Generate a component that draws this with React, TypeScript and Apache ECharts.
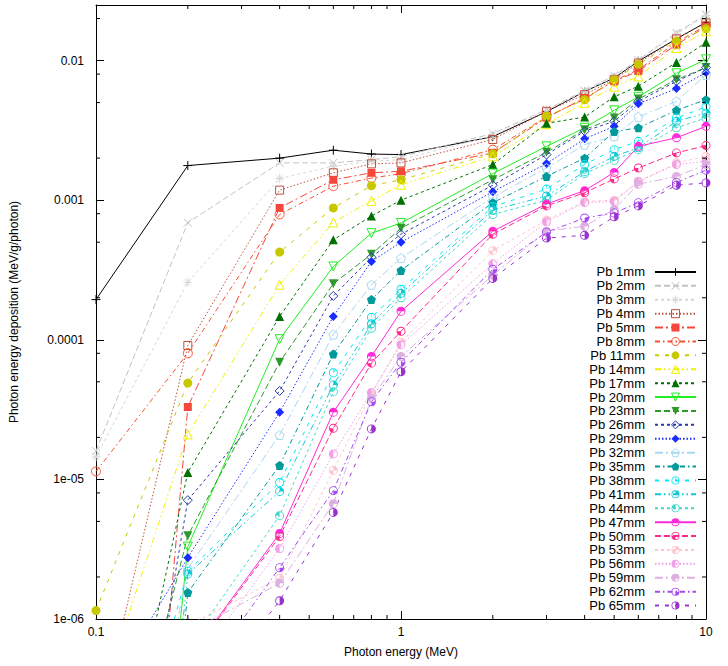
import React, { useEffect, useRef } from "react";
import * as echarts from "echarts";

// ---------------- data ----------------
const ENERGY = [0.1, 0.2, 0.4, 0.6, 0.8, 1, 2, 3, 4, 5, 6, 8, 10];

const PB_1MM = [1.94e-4, 1.77e-3, 2.0e-3, 2.28e-3, 2.14e-3, 2.12e-3, 2.85e-3, 4.3e-3, 6.0e-3, 7.5e-3, 9.9e-3, 1.43e-2, 1.88e-2];
const PB_2MM = [1.6e-5, 6.9e-4, 1.85e-3, 1.85e-3, 1.95e-3, 2.05e-3, 3.0e-3, 4.45e-3, 6.1e-3, 7.8e-3, 1.01e-2, 1.58e-2, 2.14e-2];
const PB_3MM = [1.45e-5, 2.58e-4, 1.43e-3, 1.75e-3, 1.9e-3, 1.95e-3, 2.9e-3, 4.4e-3, 6.0e-3, 7.6e-3, 1.0e-2, 1.55e-2, 2.1e-2];
const PB_4MM = [1.4e-7, 9.1e-5, 1.18e-3, 1.57e-3, 1.82e-3, 1.85e-3, 2.72e-3, 4.33e-3, 5.7e-3, 7.3e-3, 9.6e-3, 1.43e-2, 1.86e-2];
const PB_5MM = [1e-12, 3.3e-5, 8.8e-4, 1.4e-3, 1.57e-3, 1.61e-3, 2.18e-3, 3.9e-3, 5.4e-3, 7.1e-3, 8.4e-3, 1.3e-2, 1.75e-2];
const PB_8MM = [1.14e-5, 8.0e-5, 7.9e-4, 1.26e-3, 1.44e-3, 1.55e-3, 2.3e-3, 3.95e-3, 5.3e-3, 7.2e-3, 8.6e-3, 1.35e-2, 1.78e-2];
const PB_11MM = [1.15e-6, 4.9e-5, 4.25e-4, 8.8e-4, 1.27e-3, 1.4e-3, 2.15e-3, 3.99e-3, 5.25e-3, 7.3e-3, 9.4e-3, 1.38e-2, 1.69e-2];
const PB_14MM = [2.1e-7, 2.1e-5, 2.48e-4, 6.93e-4, 9.9e-4, 1.29e-3, 2.06e-3, 3.5e-3, 4.98e-3, 6.5e-3, 7.7e-3, 1.23e-2, 1.62e-2];
const PB_17MM = [1e-8, 1.12e-5, 1.47e-4, 5.2e-4, 7.7e-4, 1.0e-3, 1.8e-3, 3.55e-3, 3.94e-3, 5.5e-3, 6.55e-3, 9.7e-3, 1.35e-2];
const PB_20MM = [1e-12, 3.3e-6, 1.01e-4, 3.35e-4, 5.8e-4, 6.86e-4, 1.55e-3, 2.43e-3, 3.3e-3, 4.4e-3, 5.5e-3, 8.1e-3, 1.02e-2];
const PB_23MM = [1e-8, 3.95e-6, 6.9e-5, 2.52e-4, 4.1e-4, 6.3e-4, 1.4e-3, 2.2e-3, 3.2e-3, 3.88e-3, 5.3e-3, 7.3e-3, 8.9e-3];
const PB_26MM = [1e-9, 7.1e-6, 4.3e-5, 2.06e-4, 3.9e-4, 5.7e-4, 1.28e-3, 2.12e-3, 3.12e-3, 3.67e-3, 5.1e-3, 7.1e-3, 8.9e-3];
const PB_29MM = [2.2e-7, 2.75e-6, 3.03e-5, 1.47e-4, 3.64e-4, 5.0e-4, 1.15e-3, 1.83e-3, 2.75e-3, 3.38e-3, 4.9e-3, 6.3e-3, 8.2e-3];
const PB_32MM = [1e-9, 2.3e-6, 2.08e-5, 1.09e-4, 2.48e-4, 3.85e-4, 1.05e-3, 1.7e-3, 2.5e-3, 2.87e-3, 3.95e-3, 5.1e-3, 7.9e-3];
const PB_35MM = [1e-12, 1.55e-6, 1.26e-5, 7.9e-5, 1.94e-4, 3.14e-4, 9.6e-4, 1.48e-3, 2.0e-3, 3.1e-3, 3.3e-3, 4.4e-3, 5.25e-3];
const PB_38MM = [1e-8, 2.2e-6, 9.5e-6, 5.8e-5, 1.45e-4, 2.3e-4, 9.0e-4, 1.2e-3, 1.8e-3, 2.3e-3, 2.64e-3, 3.88e-3, 4.66e-3];
const PB_41MM = [1e-12, 2.1e-6, 8.2e-6, 4.75e-5, 1.3e-4, 2.15e-4, 8.5e-4, 1.07e-3, 1.6e-3, 2.06e-3, 2.37e-3, 3.67e-3, 4.2e-3];
const PB_44MM = [1e-10, 6.3e-7, 5.5e-6, 4.25e-5, 1.21e-4, 2.0e-4, 7.9e-4, 1.0e-3, 1.55e-3, 1.93e-3, 2.3e-3, 3.3e-3, 3.88e-3];
const PB_47MM = [1e-10, 5.2e-7, 4.1e-6, 3.03e-5, 7.6e-5, 1.6e-4, 6.0e-4, 9.4e-4, 1.17e-3, 1.58e-3, 2.43e-3, 2.8e-3, 3.38e-3];
const PB_50MM = [1e-10, 5.1e-7, 3.9e-6, 2.32e-5, 6.8e-5, 1.15e-4, 5.7e-4, 9.1e-4, 1.13e-3, 1.42e-3, 1.7e-3, 2.18e-3, 2.46e-3];
const PB_53MM = [1e-10, 9e-7, 1.95e-6, 1.16e-5, 4.1e-5, 9.6e-5, 4.35e-4, 7.2e-4, 9.8e-4, 1.0e-3, 1.36e-3, 1.85e-3, 2.06e-3];
const PB_56MM = [1e-10, 4e-7, 3.2e-6, 1.52e-5, 4.2e-5, 9.2e-5, 3.5e-4, 7.0e-4, 9.6e-4, 9.8e-4, 1.36e-3, 1.8e-3, 1.9e-3];
const PB_59MM = [1e-10, 8e-7, 1.8e-6, 6.7e-6, 3.8e-5, 7.6e-5, 2.9e-4, 6.0e-4, 6.5e-4, 8.6e-4, 1.3e-3, 1.48e-3, 1.8e-3];
const PB_62MM = [1e-10, 2.8e-7, 2.33e-6, 8.3e-6, 3.6e-5, 6.9e-5, 3.2e-4, 5.9e-4, 7.45e-4, 8.1e-4, 9.6e-4, 1.34e-3, 1.64e-3];
const PB_65MM = [1e-10, 1.9e-7, 1.35e-6, 5.8e-6, 2.3e-5, 5.9e-5, 2.75e-4, 5.35e-4, 5.6e-4, 7.6e-4, 9.1e-4, 1.28e-3, 1.33e-3];

const SERIES_NAMES = [
  "Pb 1mm", "Pb 2mm", "Pb 3mm", "Pb 4mm", "Pb 5mm", "Pb 8mm", "Pb 11mm", "Pb 14mm",
  "Pb 17mm", "Pb 20mm", "Pb 23mm", "Pb 26mm", "Pb 29mm", "Pb 32mm", "Pb 35mm",
  "Pb 38mm", "Pb 41mm", "Pb 44mm", "Pb 47mm", "Pb 50mm", "Pb 53mm", "Pb 56mm",
  "Pb 59mm", "Pb 62mm", "Pb 65mm",
];
const SERIES_VALUES = [
  PB_1MM, PB_2MM, PB_3MM, PB_4MM, PB_5MM, PB_8MM, PB_11MM, PB_14MM, PB_17MM,
  PB_20MM, PB_23MM, PB_26MM, PB_29MM, PB_32MM, PB_35MM, PB_38MM, PB_41MM,
  PB_44MM, PB_47MM, PB_50MM, PB_53MM, PB_56MM, PB_59MM, PB_62MM, PB_65MM,
];

const X_MIN = 0.1;
const X_MAX = 10;
const Y_MIN = 1e-6;
const Y_MAX = 0.025;
const X_MINOR_TICKS = [0.2, 0.3, 0.4, 0.5, 0.6, 0.7, 0.8, 0.9, 2, 3, 4, 5, 6, 7, 8, 9];
const Y_MINOR_TICKS = [2e-6, 5e-6, 8e-6, 2e-5, 5e-5, 8e-5, 2e-4, 5e-4, 8e-4, 2e-3, 5e-3, 8e-3, 2e-2];

const X_TITLE = "Photon energy (MeV)";
const Y_TITLE = "Photon energy deposition (MeV/g/photon)";

// ---------------- styles ----------------
const FONT = "'Liberation Sans', Arial, Helvetica, sans-serif";

const COLORS = [
  "#000000", "#c2c2c2", "#d6d6d6", "#c0503a", "#f5473b", "#f8502e", "#c8c800",
  "#f0f000", "#007000", "#22ee22", "#2e9a2e", "#2a3aa8", "#1a2cff", "#a8d8f0",
  "#009a9a", "#00e8f0", "#10c8d8", "#40d8cc", "#ff2ad8", "#ff2a8a", "#ffc4cc",
  "#f0a0e8", "#dcb0e0", "#a44af0", "#9a32d0",
];

const DASHES: any[] = [
  "solid",
  [6, 3],
  [3, 3],
  [1.5, 2],
  [8, 3, 2, 3],
  [5, 3, 1.5, 3],
  [4, 6],
  [6, 3, 1.5, 3, 1.5, 3],
  [3, 3],
];

const RING =
  "M0,10A10,10 0 1 1 20,10A10,10 0 1 1 0,10Z M2,10A8,8 0 1 0 18,10A8,8 0 1 0 2,10Z";

function pt(a: number) {
  const r = (a * Math.PI) / 180;
  return `${(10 + 8 * Math.cos(r)).toFixed(3)},${(10 - 8 * Math.sin(r)).toFixed(3)}`;
}
function sector(a1: number, a2: number) {
  const large = a2 - a1 > 180 ? 1 : 0;
  return `M10,10L${pt(a2)}A8,8 0 ${large} 1 ${pt(a1)}Z`;
}
function patternCircle(ranges: number[][]) {
  let d = RING;
  if (ranges.length === 0) d += " M9.4,2H10.6V10H9.4Z";
  for (const [a1, a2] of ranges) d += " " + sector(a1, a2);
  return "path://" + d;
}

type Mk = { symbol: string; filled: boolean; size: number; rotate?: number };
const MARKERS: Mk[] = [
  { symbol: "path://M10,0V20M0,10H20", filled: false, size: 9 },
  { symbol: "path://M0,0L20,20M20,0L0,20", filled: false, size: 8 },
  { symbol: "path://M10,0V20M0,10H20M3,3L17,17M17,3L3,17", filled: false, size: 9 },
  { symbol: "rect", filled: false, size: 8 },
  { symbol: "rect", filled: true, size: 8 },
  { symbol: "circle", filled: false, size: 9 },
  { symbol: "circle", filled: true, size: 9 },
  { symbol: "triangle", filled: false, size: 9 },
  { symbol: "triangle", filled: true, size: 9 },
  { symbol: "triangle", filled: false, size: 9, rotate: 180 },
  { symbol: "triangle", filled: true, size: 9, rotate: 180 },
  { symbol: "diamond", filled: false, size: 9 },
  { symbol: "diamond", filled: true, size: 9 },
  { symbol: "path://M10,0L19.51,6.91L15.88,18.09L4.12,18.09L0.49,6.91Z", filled: false, size: 9 },
  { symbol: "path://M10,0L19.51,6.91L15.88,18.09L4.12,18.09L0.49,6.91Z", filled: true, size: 9 },
  { symbol: patternCircle([]), filled: true, size: 9 },
  { symbol: patternCircle([[0, 90]]), filled: true, size: 9 },
  { symbol: patternCircle([[90, 180]]), filled: true, size: 9 },
  { symbol: patternCircle([[0, 180]]), filled: true, size: 9 },
  { symbol: patternCircle([[180, 270]]), filled: true, size: 9 },
  { symbol: patternCircle([[0, 90], [180, 270]]), filled: true, size: 9 },
  { symbol: patternCircle([[90, 270]]), filled: true, size: 9 },
  { symbol: patternCircle([[0, 270]]), filled: true, size: 9 },
  { symbol: patternCircle([[270, 360]]), filled: true, size: 9 },
  { symbol: patternCircle([[-90, 90]]), filled: true, size: 9 },
];

function fmtLog(v: number) {
  const l = Math.log10(v);
  const e = Math.round(l);
  if (Math.abs(l - e) > 1e-6) return "";
  if (e >= 0) return String(Math.round(Math.pow(10, e)));
  if (e >= -4) return Math.pow(10, e).toFixed(-e);
  return "1e-" + String(-e).padStart(2, "0");
}

export default function App() {
  const ref = useRef<HTMLDivElement>(null);

  useEffect(() => {
    if (!ref.current) return;
    const chart = echarts.init(ref.current, undefined, { renderer: "svg" });

    const lineSeries = SERIES_NAMES.map((name, i) => {
      const c = COLORS[i];
      const mk = MARKERS[i];
      return {
        name,
        type: "line",
        xAxisIndex: 0,
        yAxisIndex: 0,
        data: ENERGY.map((x, j) => [x, SERIES_VALUES[i][j]]),
        symbol: mk.symbol,
        symbolSize: mk.size,
        symbolRotate: mk.rotate || 0,
        showSymbol: true,
        showAllSymbol: true,
        clip: true,
        lineStyle: { color: c, width: 1, type: DASHES[i % 9] },
        itemStyle: mk.filled
          ? { color: c, borderColor: c, borderWidth: 0 }
          : { color: "rgba(0,0,0,0)", borderColor: c, borderWidth: 1 },
        emphasis: { disabled: true },
        z: 2,
      };
    });

    const tickSeries = {
      type: "custom",
      name: "_ticks",
      xAxisIndex: 0,
      yAxisIndex: 0,
      silent: true,
      clip: false,
      z: 5,
      data: [
        ...X_MINOR_TICKS.map((v) => [v, Y_MIN, 0]),
        ...Y_MINOR_TICKS.map((v) => [X_MIN, v, 1]),
      ],
      encode: { x: 0, y: 1 },
      renderItem: (params: any, api: any) => {
        const kind = api.value(2);
        const st = { stroke: "#000", lineWidth: 1 };
        if (kind === 0) {
          const b = api.coord([api.value(0), Y_MIN]);
          const t = api.coord([api.value(0), Y_MAX]);
          return {
            type: "group",
            children: [
              { type: "line", shape: { x1: b[0], y1: b[1], x2: b[0], y2: b[1] - 4 }, style: st },
              { type: "line", shape: { x1: t[0], y1: t[1], x2: t[0], y2: t[1] + 4 }, style: st },
            ],
          };
        }
        const l = api.coord([X_MIN, api.value(1)]);
        const r = api.coord([X_MAX, api.value(1)]);
        return {
          type: "group",
          children: [
            { type: "line", shape: { x1: l[0], y1: l[1], x2: l[0] + 4, y2: l[1] }, style: st },
            { type: "line", shape: { x1: r[0], y1: r[1], x2: r[0] - 4, y2: r[1] }, style: st },
          ],
        };
      },
    };

    const axisCommon = {
      axisLine: { show: true, onZero: false, lineStyle: { color: "#000", width: 1 } },
      axisTick: { show: true, inside: true, length: 8, lineStyle: { color: "#000", width: 1 } },
      splitLine: { show: false },
      minorTick: { show: false },
    };

    const option: any = {
      animation: false,
      backgroundColor: "#ffffff",
      textStyle: { fontFamily: FONT },
      grid: { left: 92, right: 22, top: 5, bottom: 47, containLabel: false },
      xAxis: [
        {
          type: "log",
          logBase: 10,
          min: X_MIN,
          max: X_MAX,
          splitNumber: 2,
          position: "bottom",
          name: X_TITLE,
          nameLocation: "middle",
          nameGap: 27,
          nameTextStyle: { fontSize: 12, color: "#000", fontFamily: FONT },
          axisLabel: {
            show: true,
            margin: 7,
            fontSize: 12,
            color: "#000",
            fontFamily: FONT,
            formatter: fmtLog,
            showMaxLabel: true,
            showMinLabel: true,
          },
          ...axisCommon,
        },
        {
          type: "log",
          logBase: 10,
          min: X_MIN,
          max: X_MAX,
          splitNumber: 2,
          position: "top",
          axisLabel: { show: false },
          ...axisCommon,
        },
      ],
      yAxis: [
        {
          type: "log",
          logBase: 10,
          min: Y_MIN,
          max: Y_MAX,
          splitNumber: 4,
          position: "left",
          name: Y_TITLE,
          nameLocation: "middle",
          nameGap: 76,
          nameRotate: 90,
          nameTextStyle: { fontSize: 12, color: "#000", fontFamily: FONT },
          axisLabel: {
            show: true,
            margin: 12,
            fontSize: 12,
            color: "#000",
            fontFamily: FONT,
            formatter: fmtLog,
            showMaxLabel: false,
          },
          ...axisCommon,
        },
        {
          type: "log",
          logBase: 10,
          min: Y_MIN,
          max: Y_MAX,
          splitNumber: 4,
          position: "right",
          axisLabel: { show: false },
          ...axisCommon,
        },
      ],
      legend: {
        show: true,
        orient: "vertical",
        align: "right",
        right: 31,
        top: 265,
        padding: 0,
        itemGap: 0,
        itemWidth: 41,
        itemHeight: 10,
        selectedMode: false,
        textStyle: {
          fontSize: 13,
          color: "#000",
          fontFamily: FONT,
          lineHeight: 13.9,
          padding: [0, 5, 0, 0],
        },
        data: SERIES_NAMES.map((name, i) => ({
          name,
          itemStyle: { borderWidth: MARKERS[i].filled ? 0 : 1 },
        })),
      },
      series: [...lineSeries, tickSeries],
    };

    chart.setOption(option);
    return () => {
      chart.dispose();
    };
  }, []);

  return (
    <div
      ref={ref}
      style={{ position: "absolute", left: 0, top: 0, width: 728, height: 666, background: "#fff" }}
    />
  );
}
